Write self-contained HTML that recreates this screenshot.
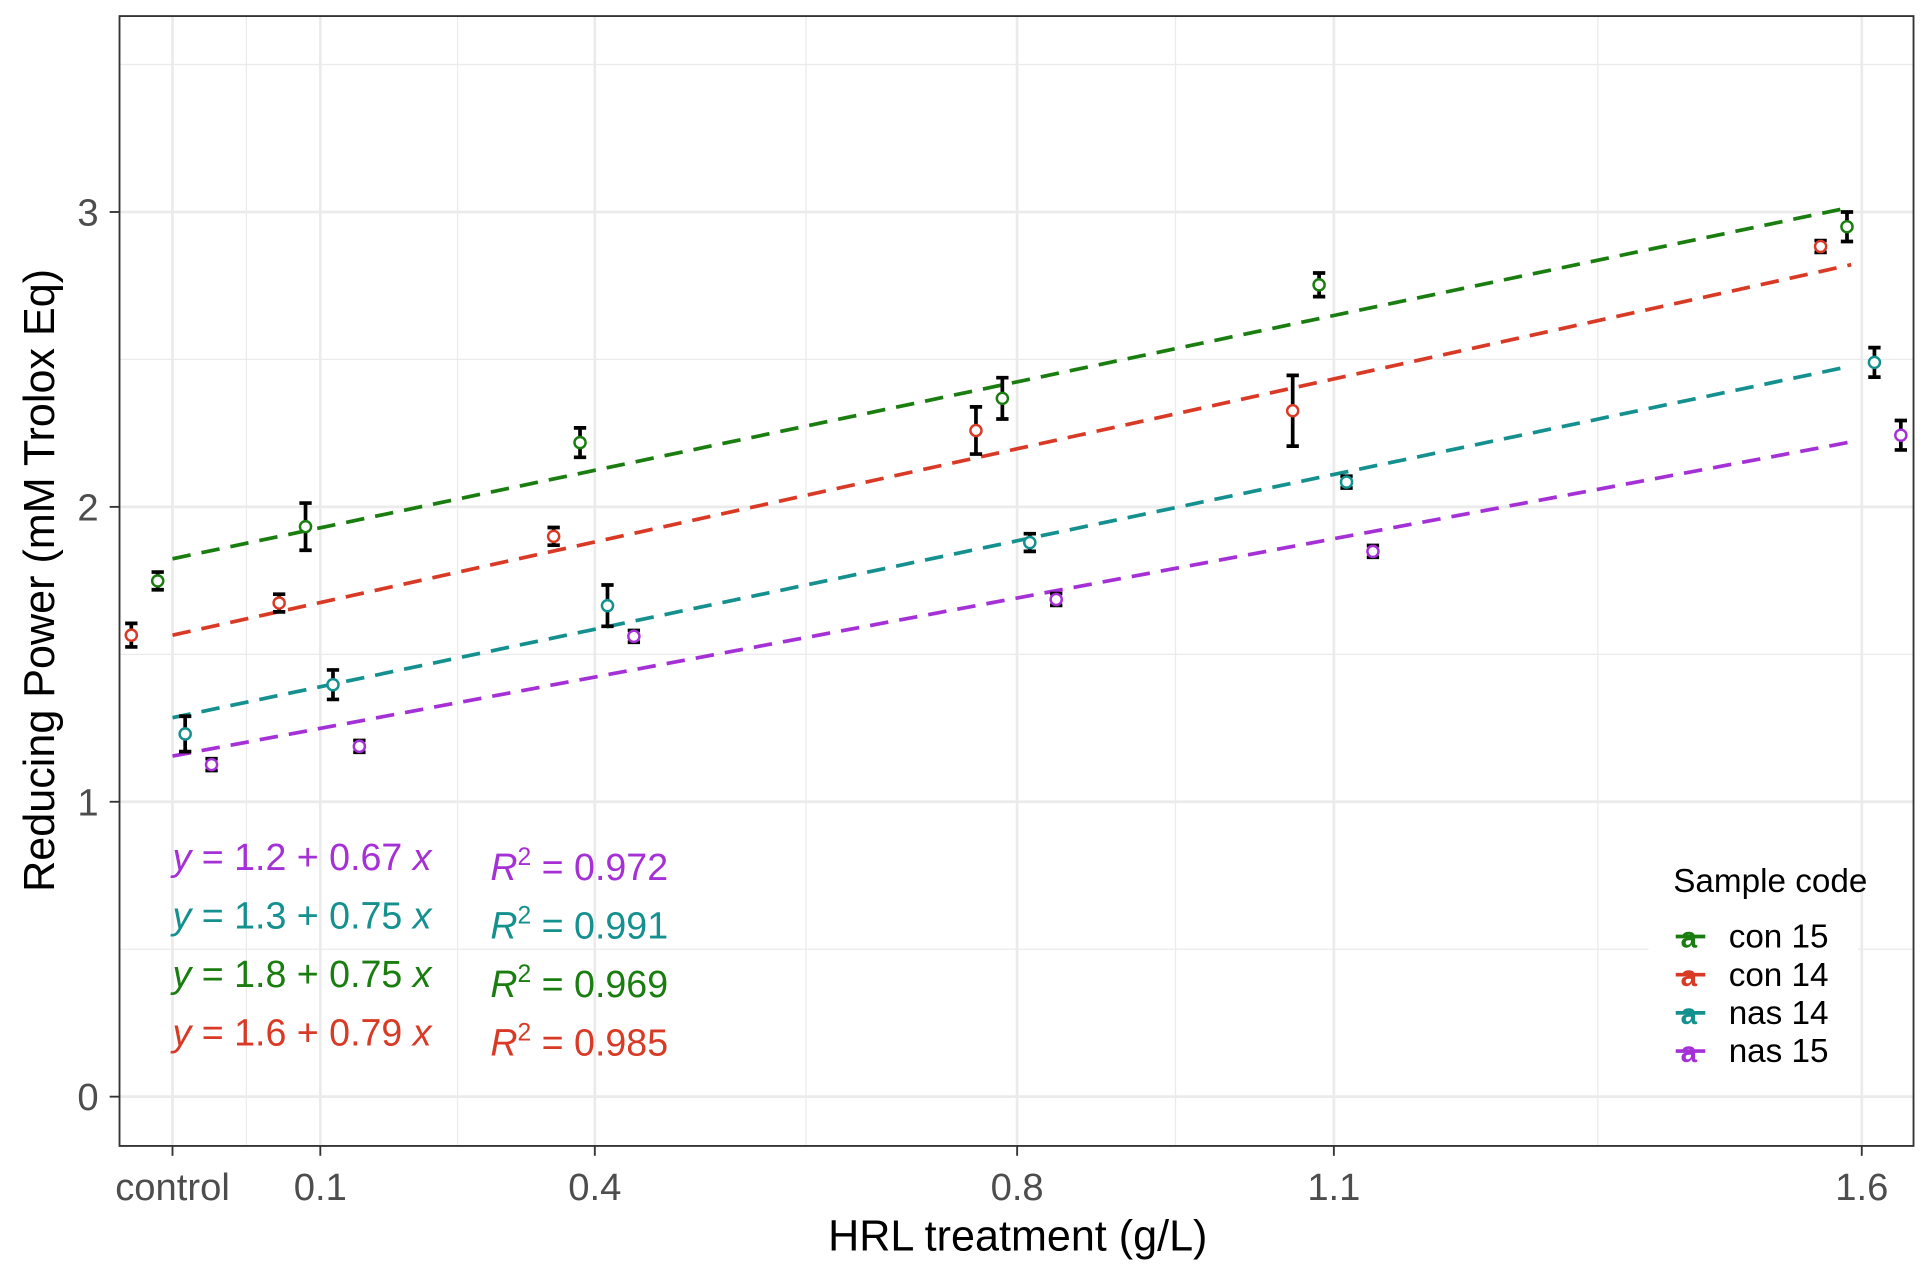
<!DOCTYPE html>
<html><head><meta charset="utf-8"><style>html,body{margin:0;padding:0;background:#fff}svg{display:block}</style></head>
<body>
<svg id="chart" width="1932" height="1284" viewBox="0 0 1568 1042" xmlns="http://www.w3.org/2000/svg" font-family="'Liberation Sans', Arial, sans-serif">
<rect x="0" y="0" width="1568" height="1042" fill="#fff"/>
<g id="grid"></g>
<g id="lines"></g>
<g id="marks"></g>
<rect x="97" y="13" width="1456" height="917" fill="none" stroke="#333" stroke-width="1.5"/>
<g id="axes"></g>
<text x="826" y="1015" font-size="35" text-anchor="middle" fill="#000">HRL treatment (g/L)</text>
<text transform="translate(44,471) rotate(-90)" font-size="35" text-anchor="middle" fill="#000">Reducing Power (mM Trolox Eq)</text>
<g id="annot"></g>
<g id="legend">
<rect x="1338" y="690" width="170" height="185" fill="#fff"/>
<text x="1358" y="724" font-size="27" fill="#000">Sample code</text>
</g>
</svg>
<script>
const categories = ["control","0.1","0.4","0.8","1.1","1.6"];
const catPos = [0, 0.14, 0.4, 0.8, 1.1, 1.6];
const series = ["con 15","con 14","nas 14","nas 15"];
const colors = ["#1a7d0f","#d93a26","#14908f","#a530d6"];
const con15 = [1.749,1.933,2.218,2.368,2.753,2.950];
const con14 = [1.565,1.674,1.900,2.259,2.326,2.883];
const nas14 = [1.230,1.397,1.665,1.879,2.084,2.490];
const nas15 = [1.126,1.188,1.561,1.686,1.849,2.243];
const errCon15 = [0.03,0.08,0.05,0.07,0.04,0.05];
const errCon14 = [0.04,0.03,0.03,0.08,0.12,0.02];
const errNas14 = [0.06,0.05,0.07,0.03,0.02,0.05];
const errNas15 = [0.02,0.02,0.02,0.02,0.02,0.05];
const dodge = [-0.014,-0.039,0.012,0.037];
const intercepts = [1.824,1.565,1.285,1.155];
const slopes = [0.75,0.79,0.75,0.67];
const lineEnd = 1.59;
const yTicks = [0,1,2,3];
const eqLabels = ["y = 1.2 + 0.67 x","y = 1.3 + 0.75 x","y = 1.8 + 0.75 x","y = 1.6 + 0.79 x"];
const r2Labels = ["0.972","0.991","0.969","0.985"];
const eqColors = ["#a530d6","#14908f","#1a7d0f","#d93a26"];

const vals=[con15,con14,nas14,nas15], errs=[errCon15,errCon14,errNas14,errNas15];
const X = v => 140 + (v-0)*(1511-140)/1.6;
const Y = v => 890 - v*(890-172)/3;
const NS="http://www.w3.org/2000/svg";
function mk(tag, parent, attrs){const e=document.createElementNS(NS,tag);for(const k in attrs)e.setAttribute(k,attrs[k]);document.getElementById(parent).appendChild(e);return e;}
const minorX=[];for(let i=0;i<catPos.length-1;i++)minorX.push((catPos[i]+catPos[i+1])/2);
minorX.forEach(v=>{const l=mk('line','grid',{x1:X(v),x2:X(v),y1:13,y2:930,stroke:'#ebebeb','stroke-width':1});

});
[0.5,1.5,2.5,3.5].forEach(v=>{const l=mk('line','grid',{x1:97,x2:1553,y1:Y(v),y2:Y(v),stroke:'#ebebeb','stroke-width':1});

});
catPos.forEach(v=>{const l=mk('line','grid',{x1:X(v),x2:X(v),y1:13,y2:930,stroke:'#ebebeb','stroke-width':2.2});

});
yTicks.forEach(v=>{const l=mk('line','grid',{x1:97,x2:1553,y1:Y(v),y2:Y(v),stroke:'#ebebeb','stroke-width':2.2});

});
catPos.forEach((v,i)=>{const t=mk('line','axes',{x1:X(v),x2:X(v),y1:930,y2:938,stroke:'#333','stroke-width':1.5});


const tx=mk('text','axes',{x:X(v),y:974,'font-size':31,'text-anchor':'middle',fill:'#4d4d4d'});tx.textContent=categories[i];

});
yTicks.forEach(v=>{const t=mk('line','axes',{x1:89,x2:97,y1:Y(v),y2:Y(v),stroke:'#333','stroke-width':1.5});


const tx=mk('text','axes',{x:80,y:Y(v)+11,'font-size':31,'text-anchor':'end',fill:'#4d4d4d'});tx.textContent=v;

});
series.forEach((s,k)=>{const l=mk('line','lines',{x1:X(0),y1:Y(intercepts[k]),x2:X(lineEnd),y2:Y(intercepts[k]+slopes[k]*lineEnd),stroke:colors[k],'stroke-width':3,'stroke-dasharray':'15 9'});

});
series.forEach((s,k)=>{vals[k].forEach((v,i)=>{const x=X(catPos[i]+dodge[k]);const e=errs[k][i];
const g=mk('g','marks',{});


const a=document.createElementNS(NS,'path');a.setAttribute('d',`M${x},${Y(v-e)}V${Y(v+e)}M${x-5},${Y(v-e)}H${x+5}M${x-5},${Y(v+e)}H${x+5}`);a.setAttribute('stroke','#000');a.setAttribute('stroke-width',3);a.setAttribute('fill','none');g.appendChild(a);
const c=document.createElementNS(NS,'circle');c.setAttribute('cx',x);c.setAttribute('cy',Y(v));c.setAttribute('r',4.5);c.setAttribute('fill','#fff');c.setAttribute('stroke',colors[k]);c.setAttribute('stroke-width',2);g.appendChild(c);});});
eqLabels.forEach((t,i)=>{const y=706+i*47.5;
const e=mk('text','annot',{x:140,y:y,'font-size':30.5,fill:eqColors[i]});


e.innerHTML='<tspan font-style="italic">y</tspan>'+t.slice(1,t.length-1)+'<tspan font-style="italic">x</tspan>';
const r=mk('text','annot',{x:398,y:y+8,'font-size':30.5,fill:eqColors[i]});


r.innerHTML='<tspan font-style="italic">R</tspan><tspan dy="-12" font-size="20">2</tspan><tspan dy="12"> = '+r2Labels[i]+'</tspan>';});
series.forEach((s,i)=>{const y=760+i*31;
const g=mk('g','legend',{});


const l=document.createElementNS(NS,'line');l.setAttribute('x1',1360);l.setAttribute('x2',1384);l.setAttribute('y1',y);l.setAttribute('y2',y);l.setAttribute('stroke',colors[i]);l.setAttribute('stroke-width',3);g.appendChild(l);
const a=document.createElementNS(NS,'text');a.setAttribute('x',1364);a.setAttribute('y',y+9);a.setAttribute('font-size',24);a.setAttribute('font-weight','bold');a.setAttribute('fill',colors[i]);a.textContent='a';g.appendChild(a);
const t=document.createElementNS(NS,'text');t.setAttribute('x',1403);t.setAttribute('y',y+9);t.setAttribute('font-size',27);t.setAttribute('fill','#000');t.textContent=s;g.appendChild(t);});
</script>
</body></html>
